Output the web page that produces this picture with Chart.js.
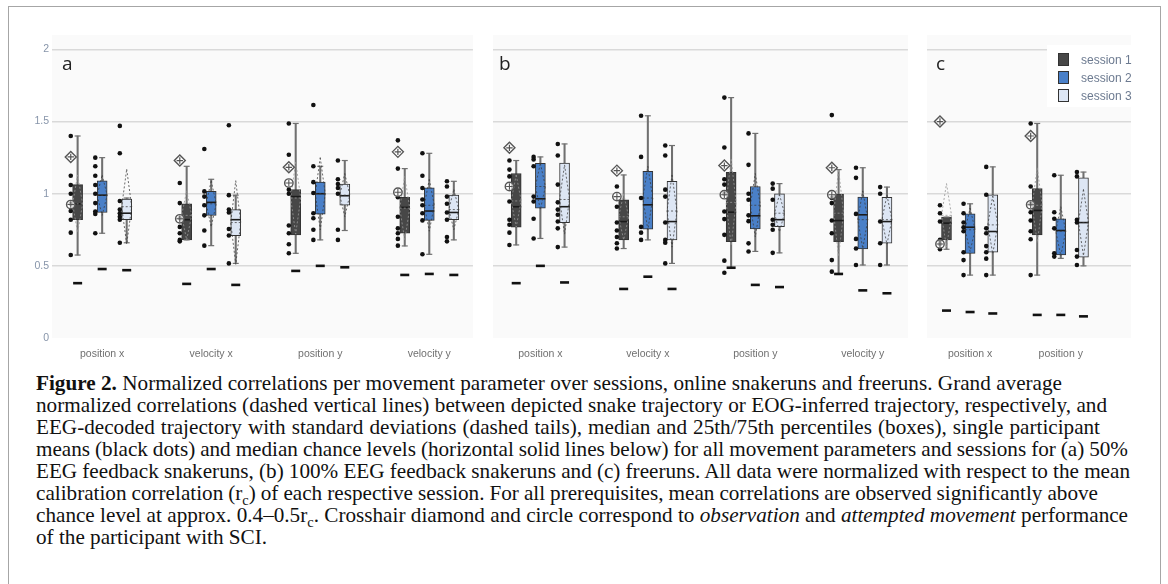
<!DOCTYPE html>
<html>
<head>
<meta charset="utf-8">
<script src="https://cdn.jsdelivr.net/npm/chart.js@4.4.1/dist/chart.umd.min.js"></script>
<style>
  body { margin: 0; width: 1168px; height: 584px; overflow: hidden; position: relative; background: #fff; font-family: 'Liberation Sans', Arial, sans-serif; }
  .frame { position: absolute; left: 8px; top: 6px; width: 1153px; height: 620px; border: 1.5px solid #a6a6a6; box-sizing: border-box; }
  canvas { position: absolute; top: 25px; }
  .letter { position: absolute; font-family: 'Open Sans', sans-serif; font-size: 19px; color: #222; line-height: 1; }
  .legend { position: absolute; left: 1047px; top: 45px; width: 86px; height: 62px; background: #fff; }
  .legend div { position: absolute; left: 11px; font-size: 12px; color: #6c7a90; line-height: 12px; }
  .legend span { display: inline-block; width: 9px; height: 11px; border: 1px solid #333; margin-right: 12px; vertical-align: -2px; }
  .caption { position: absolute; left: 36px; top: 372px; font-family: 'Liberation Serif', 'DejaVu Serif', serif; font-size: 20px; line-height: 22px; color: #111; }
  .ln { white-space: nowrap; display: block; }
  .ln > span { display: inline-block; }
  sub { font-size: 0.68em; line-height: 0; }
</style>
</head>
<body>
<div class="frame"></div>
<canvas id="pa" width="460" height="335" style="left:20px"></canvas>
<canvas id="pb" width="429" height="335" style="left:486px"></canvas>
<canvas id="pc" width="218" height="335" style="left:920px"></canvas>
<div class="letter" style="left:62px;top:54px">a</div>
<div class="letter" style="left:499px;top:54px">b</div>
<div class="letter" style="left:936px;top:54px">c</div>
<div class="legend">
  <div style="top:8px"><span style="background:#474747"></span>session 1</div>
  <div style="top:26px"><span style="background:#4a80c8"></span>session 2</div>
  <div style="top:44px"><span style="background:#dde6f4"></span>session 3</div>
</div>
<div class="caption">
  <div class="ln" data-end="1062"><span><b>Figure 2.</b> Normalized correlations per movement parameter over sessions, online snakeruns and freeruns. Grand average</span></div>
  <div class="ln" data-end="1107"><span>normalized correlations (dashed vertical lines) between depicted snake trajectory or EOG-inferred trajectory, respectively, and</span></div>
  <div class="ln" data-end="1100"><span>EEG-decoded trajectory with standard deviations (dashed tails), median and 25th/75th percentiles (boxes), single participant</span></div>
  <div class="ln" data-end="1128"><span>means (black dots) and median chance levels (horizontal solid lines below) for all movement parameters and sessions for (a) 50%</span></div>
  <div class="ln" data-end="1130"><span>EEG feedback snakeruns, (b) 100% EEG feedback snakeruns and (c) freeruns. All data were normalized with respect to the mean</span></div>
  <div class="ln" data-end="1098"><span>calibration correlation (r<sub>c</sub>) of each respective session. For all prerequisites, mean correlations are observed significantly above</span></div>
  <div class="ln" data-end="1128"><span>chance level at approx. 0.4–0.5r<sub>c</sub>. Crosshair diamond and circle correspond to <i>observation</i> and <i>attempted movement</i> performance</span></div>
  <div class="ln"><span>of the participant with SCI.</span></div>
</div>
<script>
const catsAB = ['position x', 'velocity x', 'position y', 'velocity y'];
const catsC = ['position x', 'position y'];
const sessions = ['session 1', 'session 2', 'session 3'];
const yTicks = [0, 0.5, 1, 1.5, 2];

// every stat: [session 1, session 2, session 3], one value per movement parameter
// (a) 50% EEG feedback snakeruns
const aLow = [[0.575, 0.68, 0.587, 0.638], [0.726, 0.64, 0.68, 0.58], [0.66, 0.517, 0.745, 0.68]];
const aQ1 = [[0.82, 0.68, 0.715, 0.726], [0.87, 0.85, 0.858, 0.815], [0.82, 0.71, 0.92, 0.82]];
const aMed = [[0.93, 0.82, 0.98, 0.905], [0.99, 0.94, 1.0, 0.88], [0.865, 0.82, 0.986, 0.87]];
const aQ3 = [[1.063, 0.93, 1.028, 0.975], [1.09, 1.016, 1.08, 1.04], [0.963, 0.89, 1.067, 0.99]];
const aHigh = [[1.40, 1.19, 1.487, 1.174], [1.25, 1.10, 1.19, 1.28], [0.97, 0.99, 1.23, 1.086]];
const aMean = [[0.93, 0.85, 0.97, 0.9], [0.99, 0.93, 1.0, 0.92], [0.91, 0.80, 0.99, 0.89]];
const aSd = [[0.2, 0.17, 0.25, 0.22], [0.14, 0.16, 0.25, 0.18], [0.26, 0.29, 0.15, 0.14]];
const aChance = [[0.38, 0.375, 0.465, 0.437], [0.478, 0.478, 0.50, 0.444], [0.47, 0.368, 0.49, 0.437]];
const aDots = [
  [[1.40, 1.125, 1.06, 1.0, 0.93, 0.88, 0.82, 0.73, 0.575], [1.074, 0.935, 0.83, 0.77, 0.726, 0.68, 0.67], [1.487, 1.27, 1.028, 1.0, 0.78, 0.726, 0.65, 0.587], [1.37, 1.174, 0.975, 0.84, 0.76, 0.726, 0.687, 0.64]],
  [[1.25, 1.19, 1.125, 1.06, 1.0, 0.935, 0.877, 0.86, 0.726], [1.31, 1.016, 0.98, 0.92, 0.85, 0.745, 0.64], [1.615, 1.19, 1.08, 1.005, 0.865, 0.83, 0.75, 0.68], [1.28, 1.125, 1.04, 0.96, 0.92, 0.865, 0.815, 0.58]],
  [[1.47, 1.28, 0.95, 0.89, 0.865, 0.84, 0.82, 0.66], [1.475, 0.99, 0.89, 0.87, 0.755, 0.71, 0.517], [1.23, 1.10, 1.067, 1.04, 1.0, 0.75, 0.68], [1.086, 1.05, 0.98, 0.93, 0.87, 0.82, 0.70, 0.67]]
];
const aDiamond = [1.255, 1.23, 1.183, 1.29];
const aCircle = [0.925, 0.826, 1.074, 1.01];

// (b) 100% EEG feedback snakeruns
const bLow = [[0.645, 0.62, 0.483, 0.44], [0.69, 0.68, 0.60, 0.506], [0.63, 0.517, 0.59, 0.506]];
const bQ1 = [[0.768, 0.68, 0.668, 0.668], [0.90, 0.754, 0.756, 0.617], [0.80, 0.68, 0.772, 0.657]];
const bMed = [[0.91, 0.807, 0.872, 0.814], [0.965, 0.923, 0.847, 0.854], [0.91, 0.807, 0.82, 0.807]];
const bQ3 = [[1.14, 0.958, 1.148, 0.998], [1.21, 1.155, 1.05, 0.977], [1.213, 1.086, 1.0, 0.975]];
const bHigh = [[1.23, 1.13, 1.666, 1.167], [1.255, 1.54, 1.418, 1.18], [1.345, 1.334, 1.07, 1.046]];
const bMean = [[0.95, 0.84, 0.94, 0.865], [1.05, 0.97, 0.92, 0.82], [0.96, 0.88, 0.865, 0.82]];
const bSd = [[0.18, 0.16, 0.3, 0.3], [0.16, 0.22, 0.22, 0.2], [0.24, 0.25, 0.13, 0.17]];
const bChance = [[0.38, 0.34, 0.487, 0.444], [0.50, 0.425, 0.368, 0.33], [0.385, 0.34, 0.353, 0.31]];
const bDots = [
  [[1.23, 1.167, 1.12, 0.946, 0.82, 0.785, 0.73, 0.645], [1.05, 0.91, 0.80, 0.745, 0.70, 0.657, 0.62], [1.666, 1.32, 1.10, 1.063, 1.0, 0.877, 0.824, 0.715, 0.536, 0.452], [1.545, 0.97, 0.935, 0.814, 0.726, 0.54, 0.46]],
  [[1.255, 1.237, 1.19, 0.98, 0.946, 0.826, 0.69], [1.54, 1.255, 0.97, 0.77, 0.73, 0.68], [1.418, 1.2, 1.0, 0.958, 0.85, 0.81, 0.656, 0.6], [1.18, 1.11, 0.86, 0.687, 0.62, 0.506]],
  [[1.345, 1.265, 1.063, 0.94, 0.89, 0.854, 0.807, 0.76, 0.63], [1.334, 1.265, 1.028, 0.98, 0.80, 0.68, 0.66, 0.517], [1.07, 1.035, 0.958, 0.82, 0.785, 0.75, 0.59], [1.046, 1.0, 0.807, 0.657, 0.506]]
];
const bDiamond = [1.318, 1.16, 1.195, 1.18];
const bCircle = [1.05, 0.98, 0.993, 0.993];

// (c) freeruns
const cLow = [[0.615, 0.436], [0.436, 0.552], [0.436, 0.50]];
const cQ1 = [[0.68, 0.715], [0.587, 0.575], [0.594, 0.56]];
const cMed = [[0.796, 0.884], [0.768, 0.745], [0.738, 0.80]];
const cQ3 = [[0.838, 1.035], [0.86, 0.826], [0.993, 1.11]];
const cHigh = [[0.838, 1.487], [0.93, 1.128], [1.186, 1.15]];
const cMean = [[0.85, 0.92], [0.75, 0.74], [0.784, 0.80]];
const cSd = [[0.22, 0.26], [0.15, 0.17], [0.2, 0.23]];
const cChance = [[0.19, 0.16], [0.18, 0.16], [0.17, 0.15]];
const cDots = [
  [[0.92, 0.865, 0.807, 0.68, 0.652, 0.615], [1.487, 1.05, 0.93, 0.872, 0.814, 0.74, 0.684, 0.436]],
  [[0.93, 0.865, 0.80, 0.768, 0.74, 0.594, 0.54, 0.436], [1.128, 0.872, 0.826, 0.76, 0.587, 0.564]],
  [[1.186, 0.993, 0.76, 0.726, 0.637, 0.594, 0.55, 0.436], [1.15, 1.12, 0.82, 0.80, 0.61, 0.564, 0.506]]
];
const cDiamond = [1.5, 1.40];
const cCircle = [0.652, 0.923];

const fills = ['#474747', '#4a80c8', '#dde6f4'];

// light panel background behind the plot area
const panelBg = {
  id: 'panelBg',
  beforeDraw(chart) {
    const a = chart.chartArea, ctx = chart.ctx;
    ctx.save();
    ctx.fillStyle = '#fafafa';
    ctx.fillRect(a.left, a.top, a.right - a.left, a.bottom - a.top);
    ctx.restore();
  }
};

// dashed mean line + mean±sd diamond, drawn right after the medians
const sdDiamonds = {
  id: 'sdDiamonds',
  afterDatasetDraw(chart, args, opts) {
    if (chart.data.datasets[args.index].id !== 'median') return;
    const x = chart.scales.x, y = chart.scales.y, ctx = chart.ctx;
    ctx.save();
    ctx.setLineDash([2, 2]);
    ctx.lineWidth = 0.9;
    opts.items.forEach(it => {
      const px = x.getPixelForValue(it.x);
      const hw = 5;
      const top = y.getPixelForValue(it.m + it.sd), mid = y.getPixelForValue(it.m), bot = y.getPixelForValue(it.m - it.sd);
      ctx.strokeStyle = it.s === 0 ? 'rgba(150,150,150,0.9)' : 'rgba(60,60,60,0.85)';
      ctx.beginPath();
      ctx.moveTo(px, top);
      ctx.lineTo(px + hw, mid);
      ctx.lineTo(px, bot);
      ctx.lineTo(px - hw, mid);
      ctx.closePath();
      ctx.moveTo(px - hw, mid);
      ctx.lineTo(px + hw, mid);
      ctx.stroke();
    });
    ctx.restore();
  }
};

function makePanel(id, cats, low, q1, med, q3, high, mean, sd, chance, dots, diamond, circle, xMin, xMax, offs, dotOff, showY) {
  const pos = (g, s) => g + offs[s];
  const whisk = [], caps = [], medians = [], chanceLines = [], pts = [], items = [];
  for (let s = 0; s < 3; s++) {
    cats.forEach((c, g) => {
      whisk.push({ x: pos(g, s), y: [low[s][g], high[s][g]] });
      caps.push({ x: pos(g, s), y: low[s][g] }, { x: pos(g, s), y: high[s][g] });
      medians.push({ x: pos(g, s), y: med[s][g] });
      chanceLines.push({ x: pos(g, s), y: chance[s][g] });
      dots[s][g].forEach(v => pts.push({ x: pos(g, s) - dotOff, y: v }));
      items.push({ x: pos(g, s), m: mean[s][g], sd: sd[s][g], s: s });
    });
  }
  const dia = cats.map((c, g) => ({ x: pos(g, 0) - dotOff, y: diamond[g] }));
  const cir = cats.map((c, g) => ({ x: pos(g, 0) - dotOff, y: circle[g] }));

  const datasets = [
    { type: 'bar', id: 'whisker', data: whisk, backgroundColor: '#707070', barThickness: 1.4, grouped: false, order: 7 }
  ];
  for (let s = 0; s < 3; s++) {
    datasets.push({
      type: 'bar', label: sessions[s], grouped: false, order: 6,
      data: cats.map((c, g) => ({ x: pos(g, s), y: [q1[s][g], q3[s][g]] })),
      backgroundColor: fills[s], borderColor: '#333', borderWidth: 1, borderSkipped: false, barThickness: 10
    });
  }
  datasets.push(
    { type: 'scatter', data: caps, pointStyle: 'line', radius: 3, borderColor: '#707070', borderWidth: 1.2, order: 5 },
    { type: 'scatter', id: 'median', data: medians, pointStyle: 'line', radius: 5, borderColor: '#1b1b1b', borderWidth: 1.6, order: 4 },
    { type: 'scatter', data: chanceLines, pointStyle: 'line', radius: 4.5, borderColor: '#111', borderWidth: 2.6, order: 3 },
    { type: 'scatter', data: pts, pointStyle: 'circle', radius: 2.3, backgroundColor: '#111', borderWidth: 0, order: 2 },
    { type: 'scatter', data: dia, pointStyle: 'rectRot', radius: 5.5, backgroundColor: 'rgba(255,255,255,0.7)', borderColor: '#555', borderWidth: 1.4, order: 1 },
    { type: 'scatter', data: dia, pointStyle: 'cross', radius: 3.2, borderColor: '#555', borderWidth: 1.2, order: 0 },
    { type: 'scatter', data: cir, pointStyle: 'circle', radius: 4.2, backgroundColor: 'rgba(255,255,255,0.7)', borderColor: '#555', borderWidth: 1.4, order: 1 },
    { type: 'scatter', data: cir, pointStyle: 'cross', radius: 3.3, borderColor: '#555', borderWidth: 1.1, order: 0 }
  );

  new Chart(document.getElementById(id), {
    type: 'bar',
    data: { datasets: datasets },
    plugins: [panelBg, sdDiamonds],
    options: {
      responsive: false,
      animation: false,
      layout: { padding: { top: 10, left: 0, right: 0, bottom: 0 } },
      plugins: { legend: { display: false }, tooltip: { enabled: false }, sdDiamonds: { items: items } },
      scales: {
        x: {
          type: 'linear', min: xMin, max: xMax, offset: false,
          afterBuildTicks: s => { s.ticks = cats.map((c, i) => ({ value: i })); },
          afterFit: s => { s.height = 22; },
          grid: { display: false }, border: { display: false },
          ticks: { callback: v => cats[v], color: '#707070', font: { size: 10.5 }, padding: 2, maxRotation: 0, autoSkip: false }
        },
        y: {
          min: 0, max: 2.1,
          afterBuildTicks: s => { s.ticks = yTicks.map(v => ({ value: v })); },
          afterFit: s => { s.width = showY ? 32 : 0; },
          border: { display: false },
          grid: { color: c => (c.tick && c.tick.value === 0) ? 'rgba(0,0,0,0)' : '#d9d9d9', lineWidth: 1.5, drawTicks: false },
          ticks: { display: showY, callback: v => String(v), color: '#8795aa', font: { size: 10.5 }, padding: 3 }
        }
      }
    }
  });
}

makePanel('pa', catsAB, aLow, aQ1, aMed, aQ3, aHigh, aMean, aSd, aChance, aDots, aDiamond, aCircle, -0.46, 3.40, [-0.225, 0, 0.225], 0.063, true);
makePanel('pb', catsAB, bLow, bQ1, bMed, bQ3, bHigh, bMean, bSd, bChance, bDots, bDiamond, bCircle, -0.44, 3.42, [-0.225, 0, 0.225], 0.063, false);
makePanel('pc', catsC, cLow, cQ1, cMed, cQ3, cHigh, cMean, cSd, cChance, cDots, cDiamond, cCircle, -0.474, 1.773, [-0.26, 0, 0.25], 0.072, false);

// pick one caption font size from the line lengths, then stretch word spacing per line
const caption = document.querySelector('.caption');
const fitted = [...document.querySelectorAll('.ln[data-end]')];
const left = caption.getBoundingClientRect().left;
const ratios = fitted.map(ln => (+ln.dataset.end - left) / ln.firstElementChild.getBoundingClientRect().width).sort((p, q) => p - q);
caption.style.fontSize = (20 * ratios[Math.floor(ratios.length / 2)]) + 'px';
fitted.forEach(ln => {
  const sp = ln.firstElementChild;
  const gaps = (sp.textContent.match(/ /g) || []).length;
  sp.style.wordSpacing = ((+ln.dataset.end - sp.getBoundingClientRect().right) / gaps) + 'px';
});
</script>
</body>
</html>
